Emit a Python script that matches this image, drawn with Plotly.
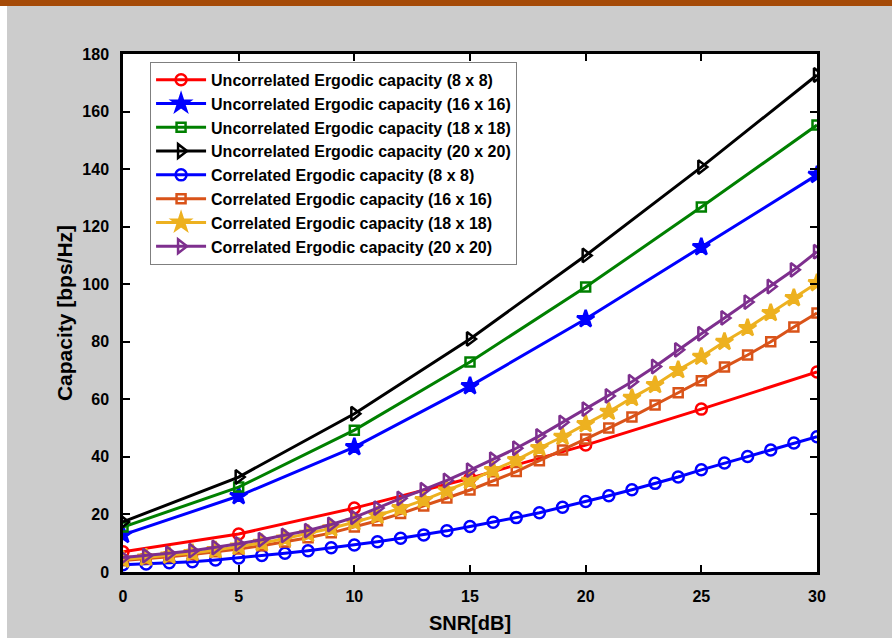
import plotly.graph_objects as go

snr_coarse = [0, 5, 10, 15, 20, 25, 30]
snr_fine = list(range(0, 31))

unc_8 = [7.0, 13.2, 22.2, 32.6, 44.1, 56.6, 69.5]
unc_16 = [12.9, 26.4, 43.4, 64.6, 87.9, 112.9, 138.0]
unc_18 = [15.6, 29.5, 49.3, 73.0, 99.0, 126.8, 155.3]
unc_20 = [17.4, 33.0, 55.0, 81.0, 110.0, 140.7, 172.7]

cor_8 = [2.5, 2.8, 3.2, 3.6, 4.2, 4.9, 5.7, 6.5, 7.4, 8.4, 9.4, 10.5, 11.7, 12.9, 14.3,
         15.8, 17.3, 18.9, 20.6, 22.5, 24.5, 26.5, 28.6, 30.8, 33.0, 35.5, 37.9, 40.1, 42.4, 44.8, 47.0]
cor_16 = [4.0, 4.6, 5.3, 6.1, 7.0, 8.0, 9.1, 10.4, 11.9, 13.6, 15.6, 17.8, 20.3, 22.9, 25.7,
          28.5, 31.7, 34.9, 38.7, 42.4, 46.2, 50.0, 53.9, 58.0, 62.3, 66.5, 71.2, 75.4, 80.0, 85.1, 90.0]
cor_18 = [4.3, 5.0, 5.7, 6.6, 7.6, 8.8, 10.1, 11.6, 13.3, 15.2, 17.3, 19.6, 22.2, 25.0, 28.3,
          31.7, 35.4, 38.9, 43.1, 47.0, 51.4, 55.7, 60.5, 65.0, 70.2, 74.8, 80.0, 84.8, 90.0, 95.2, 100.4]
cor_20 = [5.0, 5.7, 6.5, 7.4, 8.5, 9.8, 11.2, 12.7, 14.4, 16.5, 19.0, 22.2, 25.6, 28.6, 31.8,
          35.4, 39.2, 43.0, 47.3, 52.0, 56.6, 61.2, 66.1, 71.4, 77.2, 82.8, 88.3, 93.8, 99.2, 105.0, 111.3]

names = [
    "Uncorrelated Ergodic capacity (8 x 8)",
    "Uncorrelated Ergodic capacity (16 x 16)",
    "Uncorrelated Ergodic capacity (18 x 18)",
    "Uncorrelated Ergodic capacity (20 x 20)",
    "Correlated Ergodic capacity (8 x 8)",
    "Correlated Ergodic capacity (16 x 16)",
    "Correlated Ergodic capacity (18 x 18)",
    "Correlated Ergodic capacity (20 x 20)",
]
x_tick_vals = [0, 5, 10, 15, 20, 25, 30]
y_tick_vals = [0, 20, 40, 60, 80, 100, 120, 140, 160, 180]

series = [
    (snr_coarse, unc_8, "#FF0000", "circle-open", 11),
    (snr_coarse, unc_16, "#0000FF", "star", 13),
    (snr_coarse, unc_18, "#008000", "square-open", 9),
    (snr_coarse, unc_20, "#000000", "triangle-right-open", 12),
    (snr_fine, cor_8, "#0000FF", "circle-open", 11),
    (snr_fine, cor_16, "#D95319", "square-open", 9),
    (snr_fine, cor_18, "#EDB120", "star", 13),
    (snr_fine, cor_20, "#7E2F8E", "triangle-right-open", 12),
]

fig = go.Figure()
for (xs, ys, col, sym, sz), nm in zip(series, names):
    fig.add_trace(go.Scatter(
        x=xs, y=ys, name=nm, mode="lines+markers",
        line=dict(color=col, width=3),
        marker=dict(symbol=sym, size=sz, color=col, line=dict(color=col, width=2.5)),
    ))

fig.update_layout(
    width=892, height=638,
    margin=dict(l=123, r=75, t=54, b=66),
    paper_bgcolor="#CCCCCC", plot_bgcolor="#FFFFFF",
    font=dict(family="Liberation Sans", color="#000000", size=16, weight="bold"),
    showlegend=True,
    legend=dict(
        x=0.039, y=0.985, xanchor="left", yanchor="top",
        bgcolor="#FFFFFF", bordercolor="#7F7F7F", borderwidth=1,
        font=dict(family="Liberation Sans", size=16, weight="bold"),
        itemwidth=50, tracegroupgap=0,
    ),
    shapes=[
        dict(type="rect", xref="paper", yref="paper",
             x0=(0 - 123) / 694, x1=(892 - 123) / 694, y0=(572 - 0) / 518, y1=(572 - 6) / 518,
             fillcolor="#A54A07", line=dict(width=0), layer="above"),
        dict(type="rect", xref="paper", yref="paper",
             x0=(0 - 123) / 694, x1=(7 - 123) / 694, y0=(572 - 6) / 518, y1=(572 - 638) / 518,
             fillcolor="#FFFFFF", line=dict(width=0), layer="above"),
    ],
)
fig.update_xaxes(
    range=[0, 30], tickvals=x_tick_vals, ticktext=[str(v) for v in x_tick_vals],
    ticks="inside", ticklen=7, tickwidth=2, tickcolor="#000000",
    showline=True, linecolor="#000000", linewidth=2.5, mirror="ticks",
    showgrid=False, zeroline=False, automargin=False,
    tickfont=dict(size=16, weight="bold"), ticklabelstandoff=8,
    title=dict(text="SNR[dB]", font=dict(size=20, weight="bold"), standoff=13),
)
fig.update_yaxes(
    range=[0, 180], tickvals=y_tick_vals, ticktext=[str(v) for v in y_tick_vals],
    ticks="inside", ticklen=7, tickwidth=2, tickcolor="#000000",
    showline=True, linecolor="#000000", linewidth=2.5, mirror="ticks",
    showgrid=False, zeroline=False, automargin=False,
    tickfont=dict(size=16, weight="bold"), ticklabelstandoff=8,
    title=dict(text="Capacity [bps/Hz]", font=dict(size=21, weight="bold"), standoff=4),
)
fig.write_html("out.html", config={"displayModeBar": False},
               post_script="document.body.style.margin='0';")
